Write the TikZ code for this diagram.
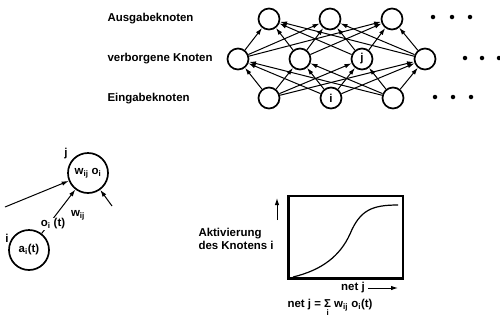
\documentclass[tikz,border=0pt]{standalone}
\usepackage{fontspec}
\setmainfont{Liberation Sans}
\usepackage{tikz}
\usetikzlibrary{positioning, arrows.meta}

\begin{document}
\begin{tikzpicture}[x=1bp, y=-1bp, font=\bfseries\fontsize{11.5}{13}\selectfont,
    main/.style = {draw, circle, line width=1.7pt, minimum size=21bp, inner sep=0pt},
    gross/.style = {draw, circle, line width=1.7pt, minimum size=40bp, inner sep=0pt},
    pfeil/.style = {-{Latex[length=7bp, width=4.5bp]}, line width=1bp},
    punkt/.style = {circle, fill, inner sep=0pt, minimum size=4.5bp}]
    \useasboundingbox (0,0) rectangle (500,324);

    % 坐标定义
    \node[main] (a1) at (269,19) {};
    \node[main] (a2) at (330,19) {};
    \node[main] (a3) at (392,19) {};
    \node[main] (v1) at (238,59) {};
    \node[main] (v2) at (300,59) {};
    \node[main] (v3) at (362,59) {j};
    \node[main] (v4) at (425,59) {};
    \node[main] (e1) at (269,98) {};
    \node[main] (e2) at (331,98) {i};
    \node[main] (e3) at (393,98) {};

    \node[punkt] (p1) at (433,17) {};
    \node[punkt] (p2) at (452,17) {};
    \node[punkt] (p3) at (470,17) {};
    \node[punkt] (p4) at (465,58) {};
    \node[punkt] (p5) at (482,58) {};
    \node[punkt] (p6) at (499,58) {};
    \node[punkt] (p7) at (435,97) {};
    \node[punkt] (p8) at (453,97) {};
    \node[punkt] (p9) at (471,97) {};

    \node[anchor=west] (ausgabe) at (104,19) {Ausgabeknoten};
    \node[anchor=west] (verborgen) at (104,59) {verborgene Knoten};
    \node[anchor=west] (eingabe) at (104,99) {Eingabeknoten};

    % 边定义
    \draw[pfeil] (e1) -- (v1);
    \draw[pfeil] (e1) -- (v2);
    \draw[pfeil] (e1) -- (v3);
    \draw[pfeil] (e1) -- (v4);
    \draw[pfeil] (e2) -- (v1);
    \draw[pfeil] (e2) -- (v2);
    \draw[pfeil] (e2) -- (v3);
    \draw[pfeil] (e2) -- (v4);
    \draw[pfeil] (e3) -- (v1);
    \draw[pfeil] (e3) -- (v2);
    \draw[pfeil] (e3) -- (v3);
    \draw[pfeil] (e3) -- (v4);
    \draw[pfeil] (v1) -- (a1);
    \draw[pfeil] (v1) -- (a2);
    \draw[pfeil] (v1) -- (a3);
    \draw[pfeil] (v2) -- (a1);
    \draw[pfeil] (v2) -- (a2);
    \draw[pfeil] (v2) -- (a3);
    \draw[pfeil] (v3) -- (a1);
    \draw[pfeil] (v3) -- (a2);
    \draw[pfeil] (v3) -- (a3);
    \draw[pfeil] (v4) -- (a1);
    \draw[pfeil] (v4) -- (a2);
    \draw[pfeil] (v4) -- (a3);

    % 单个节点
    \node[gross] (j) at (88,173) {w\textsubscript{ij} o\textsubscript{i}};
    \node[gross] (i) at (29,250) {a\textsubscript{i}(t)};
    \node (jname) at (66,154) {j};
    \node (iname) at (7,238) {i};
    \coordinate (links) at (5,207);
    \coordinate (rechts) at (112,206);
    \draw[pfeil] (links) -- (j);
    \draw[pfeil] (rechts) -- (j);
    \draw[pfeil] (i) -- (j);
    \node[fill=white, inner sep=1bp] (oit) at (53,224) {o\textsubscript{i} (t)};
    \node (wij) at (78,215) {w\textsubscript{ij}};

    % 激活函数
    \node[draw, line width=1.7pt, minimum width=114bp, minimum height=82bp, inner sep=0pt, anchor=north west] (kasten) at (288,195) {};
    \draw[line width=2.8pt] (kasten.north west) -- (kasten.south west) -- (kasten.south east);
    \draw[line width=1.2bp] (293,277) .. controls (322,270) and (340,256) .. (350,234) .. controls (360,210) and (372,205) .. (398,205);
    \coordinate (yfuss) at (277,220);
    \coordinate (ykopf) at (277,198);
    \draw[pfeil] (yfuss) -- (ykopf);
    \node[align=left, anchor=west] (aktiv) at (195,239) {Aktivierung\\des Knotens i};
    \node (net) at (353,288) {net j};
    \coordinate (xkopf) at (398,288);
    \draw[pfeil] (net) -- (xkopf);
    \node (formel) at (330,308) {net j = $\mathop{\hbox{Σ}}\limits_{\hbox{\fontsize{8}{8}\selectfont i}}$ w\textsubscript{ij} o\textsubscript{i}(t)};
\end{tikzpicture}
\end{document}
